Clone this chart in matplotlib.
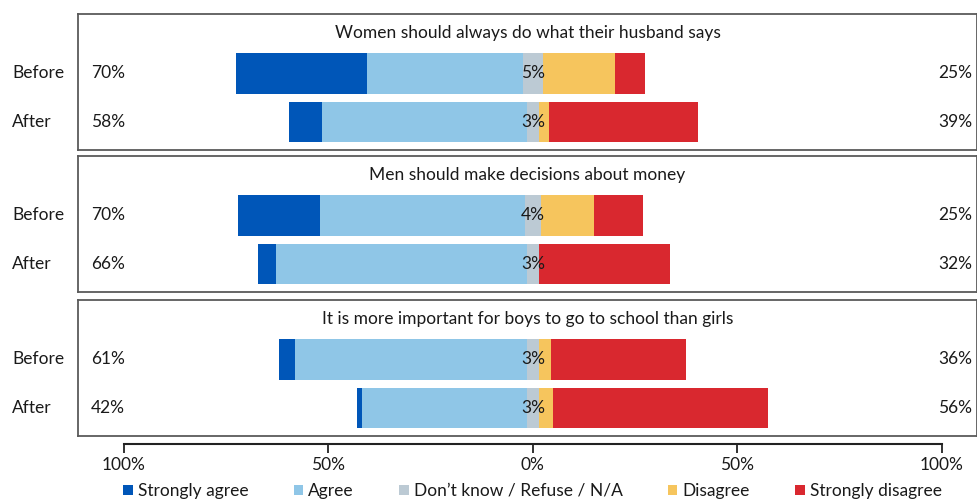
import matplotlib.pyplot as plt
from matplotlib.patches import Patch
from matplotlib.transforms import blended_transform_factory

plt.rcParams["font.family"] = ["Lato", "DejaVu Sans"]

STATEMENTS = [
    "Women should always do what their husband says",
    "Men should make decisions about money",
    "It is more important for boys to go to school than girls",
]
ROWS = ["Before", "After"]
CATEGORIES = ["Strongly agree", "Agree", "Don\u2019t know / Refuse / N/A", "Disagree", "Strongly disagree"]
COLORS = ["#0056b8", "#8fc6e7", "#bccad4", "#f6c55d", "#d9282f"]

# per statement: [before, after]
strongly_agree = [[32, 8], [20, 4.2], [4, 1.4]]
agree = [[38, 50], [50, 61.4], [56.6, 40.2]]
dont_know = [[5, 3], [4, 3], [3, 3]]
disagree = [[17.5, 2.5], [13, 0], [3, 3.5]]
strongly_disagree = [[7.5, 36.5], [12, 32], [33, 52.5]]

X_TICKS = [-100, -50, 0, 50, 100]
X_TICK_LABELS = ["100%", "50%", "0%", "50%", "100%"]

W, H = 978, 501
AX_LEFT, AX_RIGHT = 78, 977
PANEL_TOPS = [14, 156, 300]
PANEL_H = 136
XLIM = (-111.2, 108.6)
TEXT = "#1a1a1a"
FS = 12.5

fig = plt.figure(figsize=(W / 100, H / 100), dpi=100)

for i, title in enumerate(STATEMENTS):
    top = PANEL_TOPS[i]
    ax = fig.add_axes([AX_LEFT / W, 1 - (top + PANEL_H) / H, (AX_RIGHT - AX_LEFT) / W, PANEL_H / H])
    ax.set_xlim(*XLIM)
    ax.set_ylim(-28 / 48, 1 + 59 / 48)
    ax.set_xticks([])
    ax.set_yticks([])
    for sp in ax.spines.values():
        sp.set_color("#5a5a5a")
        sp.set_linewidth(1.3)

    trans = blended_transform_factory(ax.transAxes, ax.transData)
    for j, row in enumerate(ROWS):
        y = 1 - j
        sa = strongly_agree[i][j]
        a = agree[i][j]
        dk = dont_know[i][j]
        d = disagree[i][j]
        sd = strongly_disagree[i][j]
        left = -(sa + a + dk / 2)
        segs = [sa, a, dk, d, sd]
        for val, col in zip(segs, COLORS):
            if val > 0:
                ax.barh(y, val, left=left, height=40 / 48, color=col, linewidth=0)
            left += val
        ax.text(0, y, f"{dk:.0f}%", ha="center", va="center", fontsize=FS, color=TEXT)
        ax.text((91 - AX_LEFT) / (AX_RIGHT - AX_LEFT), y, f"{sa + a:.0f}%",
                transform=trans, ha="left", va="center", fontsize=FS, color=TEXT)
        ax.text((972 - AX_LEFT) / (AX_RIGHT - AX_LEFT), y, f"{d + sd:.0f}%",
                transform=trans, ha="right", va="center", fontsize=FS, color=TEXT)
        ax.text((12 - AX_LEFT) / (AX_RIGHT - AX_LEFT), y, row,
                transform=trans, ha="left", va="center", fontsize=FS, color=TEXT)

    ax.text(0.5, 1 - 19 / PANEL_H, title, transform=ax.transAxes,
            ha="center", va="center", fontsize=FS, color=TEXT)

# shared x axis below the panels
axx = fig.add_axes([AX_LEFT / W, 1 - 444 / H, (AX_RIGHT - AX_LEFT) / W, 0.001])
axx.set_xlim(*XLIM)
axx.set_yticks([])
for name in ["top", "left", "right"]:
    axx.spines[name].set_visible(False)
axx.spines["bottom"].set_bounds(-100, 100)
axx.spines["bottom"].set_linewidth(1.5)
axx.spines["bottom"].set_color("#222222")
axx.patch.set_visible(False)
axx.set_xticks(X_TICKS)
axx.set_xticklabels(X_TICK_LABELS, fontsize=FS, color=TEXT)
axx.tick_params(axis="x", direction="out", length=6.5, width=1.3, color="#222222", pad=3)

handles = [Patch(facecolor=c, edgecolor="none") for c in COLORS]
fig.legend(handles, CATEGORIES, loc="center", bbox_to_anchor=(532.5 / W, 10 / H),
           ncol=5, frameon=False, fontsize=FS, handlelength=0.55, handleheight=0.55,
           handletextpad=0.3, columnspacing=2.6, borderaxespad=0, borderpad=0,
           labelcolor=TEXT)

fig.savefig("out.png", dpi=100)
